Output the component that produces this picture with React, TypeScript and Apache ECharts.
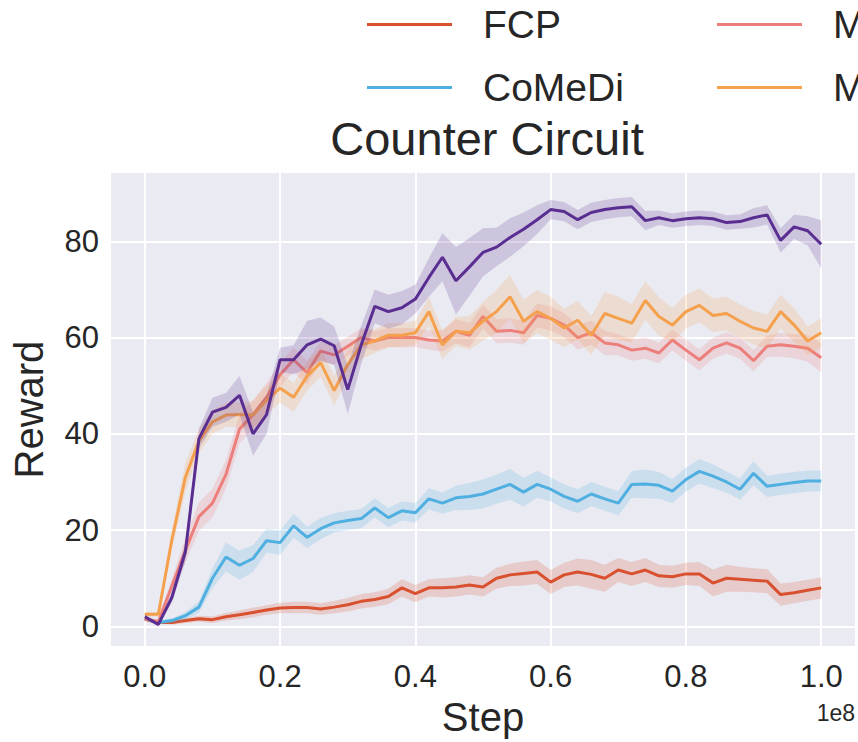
import React, { useEffect, useRef } from "react";
import * as echarts from "echarts";

const STEPS = [
  0, 0.02, 0.04, 0.06, 0.08, 0.1, 0.12, 0.14, 0.16, 0.18,
  0.2, 0.22, 0.24, 0.26, 0.28, 0.3, 0.32, 0.34, 0.36, 0.38,
  0.4, 0.42, 0.44, 0.46, 0.48, 0.5, 0.52, 0.54, 0.56, 0.58,
  0.6, 0.62, 0.64, 0.66, 0.68, 0.7, 0.72, 0.74, 0.76, 0.78,
  0.8, 0.82, 0.84, 0.86, 0.88, 0.9, 0.92, 0.94, 0.96, 0.98, 1.0,
];

const FCP = [
  1.5, 0.8, 0.8, 1.2, 1.6, 1.4, 2.0, 2.4, 2.9, 3.4,
  3.8, 3.9, 3.9, 3.6, 4.0, 4.5, 5.2, 5.6, 6.2, 8.0,
  6.8, 8.0, 8.0, 8.2, 8.6, 8.2, 10.0, 10.7, 11.0, 11.3,
  9.2, 10.7, 11.3, 10.8, 10.0, 11.7, 10.9, 11.7, 10.5, 10.3,
  10.9, 10.9, 9.0, 10.0, 9.8, 9.6, 9.4, 6.6, 7.0, 7.5, 8.0,
];
const FCP_CI = [
  0.3, 0.3, 0.4, 0.5, 0.6, 0.7, 0.8, 0.9, 1.0, 1.0,
  1.1, 1.2, 1.2, 1.2, 1.3, 1.4, 1.5, 1.5, 1.6, 1.8,
  1.8, 1.8, 2.0, 2.0, 2.0, 2.0, 2.2, 2.3, 2.5, 2.5,
  2.5, 2.5, 2.8, 3.0, 2.8, 2.5, 2.5, 2.5, 2.3, 2.3,
  2.3, 2.5, 2.8, 2.8, 2.6, 2.5, 2.5, 2.3, 2.2, 2.2, 2.2,
];

const COMEDI = [
  1.5, 0.8, 1.2, 2.2, 4.0, 10.0, 14.4, 12.7, 14.1, 17.8,
  17.4, 20.9, 18.5, 20.3, 21.5, 22.0, 22.4, 24.6, 22.6, 24.0,
  23.6, 26.5, 25.6, 26.7, 27.0, 27.5, 28.5, 29.5, 27.9, 29.5,
  28.5, 27.0, 26.0, 27.5, 26.5, 25.6, 29.5, 29.6, 29.3, 28.1,
  30.5, 32.2, 31.2, 30.0, 28.5, 31.8, 29.1, 29.5, 29.9, 30.2, 30.2,
];
const COMEDI_CI = [
  0.3, 0.3, 0.5, 0.8, 1.2, 2.0, 3.0, 3.0, 2.8, 2.5,
  2.5, 2.5, 2.2, 2.2, 2.0, 2.0, 2.0, 2.0, 2.0, 2.0,
  2.0, 2.2, 2.2, 2.5, 2.8, 3.0, 3.0, 3.2, 3.0, 2.8,
  2.5, 2.5, 2.5, 2.5, 2.5, 2.5, 2.8, 3.0, 2.8, 2.5,
  2.5, 2.5, 2.5, 2.2, 2.2, 2.5, 2.2, 2.2, 2.2, 2.2, 2.2,
];

const M1 = [
  1.5, 1.0, 8.4, 15.8, 22.8, 25.6, 31.6, 41.0, 44.0, 47.6,
  52.3, 55.4, 52.7, 57.2, 56.4, 58.2, 60.0, 59.3, 60.0, 60.0,
  60.0, 59.5, 59.3, 61.3, 60.5, 64.4, 61.3, 61.5, 61.0, 64.6,
  64.0, 62.6, 60.0, 61.0, 58.9, 58.5, 57.4, 57.8, 56.8, 59.5,
  57.4, 55.4, 57.8, 58.9, 57.8, 55.2, 58.2, 58.5, 58.2, 57.8, 55.8,
];
const M1_CI = [
  0.3, 0.5, 1.5, 2.5, 3.0, 3.0, 3.0, 3.0, 3.0, 3.0,
  2.5, 2.5, 2.5, 2.0, 2.0, 2.0, 2.0, 2.0, 2.0, 2.0,
  2.0, 2.0, 2.2, 2.5, 2.5, 2.5, 2.5, 2.5, 2.5, 2.5,
  2.5, 2.5, 2.5, 2.5, 2.5, 2.2, 2.2, 2.2, 2.2, 2.2,
  2.2, 2.2, 2.2, 2.2, 2.2, 2.2, 2.2, 2.5, 2.5, 2.8, 3.0,
];

const M2 = [
  2.5, 2.5, 18.0, 31.0, 38.5, 42.5, 43.9, 44.0, 43.9, 47.0,
  49.5, 47.6, 52.0, 54.8, 49.0, 54.4, 58.5, 59.3, 60.5, 60.5,
  61.0, 65.4, 58.5, 61.3, 61.0, 63.4, 65.4, 68.5, 63.4, 65.4,
  64.0, 62.0, 63.6, 60.5, 65.0, 64.0, 63.0, 67.7, 64.4, 62.6,
  65.4, 66.7, 64.6, 65.0, 63.4, 62.0, 61.3, 65.4, 62.6, 59.3, 61.0,
];
const M2_CI = [
  0.5, 0.5, 2.0, 3.0, 2.5, 2.5, 2.5, 2.5, 3.0, 3.0,
  3.0, 3.0, 3.0, 3.0, 3.0, 3.0, 3.0, 2.5, 2.5, 2.5,
  2.5, 3.0, 3.0, 3.0, 3.5, 4.0, 4.5, 4.5, 4.5, 4.5,
  4.5, 4.0, 4.0, 4.0, 4.5, 4.5, 4.0, 4.0, 4.0, 3.5,
  3.5, 3.5, 3.5, 3.5, 3.5, 3.5, 3.5, 3.5, 3.5, 3.0, 3.0,
];

const OURS = [
  2.0, 0.4, 6.0, 15.5, 39.0, 44.5, 45.5, 48.0, 40.0, 44.0,
  55.4, 55.4, 58.5, 59.7, 58.3, 49.2, 58.5, 66.5, 65.4, 66.2,
  68.0, 72.5, 76.7, 71.8, 74.7, 77.7, 78.8, 80.8, 82.5, 84.5,
  86.6, 86.2, 84.5, 86.0, 86.6, 87.0, 87.2, 84.3, 84.9, 84.3,
  84.7, 84.9, 84.7, 83.9, 84.1, 84.9, 85.5, 80.2, 83.0, 82.2, 79.4,
];
const OURS_CI = [
  0.5, 0.5, 1.0, 2.0, 2.0, 3.0, 3.0, 4.0, 4.5, 4.0,
  2.5, 3.0, 5.0, 4.5, 4.0, 5.0, 4.0, 3.5, 3.5, 3.5,
  3.0, 4.0, 5.0, 7.0, 6.0, 5.0, 4.0, 4.0, 3.5, 3.0,
  2.0, 2.0, 2.0, 2.0, 2.0, 2.0, 2.0, 2.0, 1.5, 1.5,
  1.5, 1.5, 1.5, 1.5, 1.5, 2.0, 2.0, 2.5, 2.5, 3.0, 5.0,
];

const NAMES = ["FCP", "CoMeDi", "MEP", "MEP+", "Ours"];
const VALUES = [FCP, COMEDI, M1, M2, OURS];
const CIS = [FCP_CI, COMEDI_CI, M1_CI, M2_CI, OURS_CI];
const COLORS = ["#d9502f", "#4eafe0", "#ec7f7c", "#f5a04c", "#5a2d90"];

const X_TICKS = [0, 0.2, 0.4, 0.6, 0.8, 1.0];
const Y_TICKS = [0, 20, 40, 60, 80];

const TITLE = "Counter Circuit";
const X_NAME = "Step";
const Y_NAME = "Reward";
const X_EXP = "1e8";

const FONT = "'Liberation Sans', Arial, Helvetica, sans-serif";
const TEXT = "#262626";

export default function App() {
  const ref = useRef<HTMLDivElement>(null);
  useEffect(() => {
    if (!ref.current) return;
    const chart = echarts.init(ref.current, null, { renderer: "svg" });
    const n = STEPS.length;

    const bands = VALUES.map((vals, k) => ({
      type: "custom",
      name: NAMES[k] + " band",
      silent: true,
      z: 2 + k * 2,
      data: [[0.5, 40]],
      renderItem: (params: any, api: any) => {
        const ci = CIS[k];
        const top: number[][] = [];
        const bot: number[][] = [];
        for (let i = 0; i < n; i++) {
          top.push(api.coord([STEPS[i], vals[i] + ci[i]]));
          bot.push(api.coord([STEPS[i], vals[i] - ci[i]]));
        }
        return {
          type: "polygon",
          shape: { points: top.concat(bot.reverse()) },
          style: { fill: COLORS[k], opacity: 0.2 },
        };
      },
    }));

    const lines = VALUES.map((vals, k) => ({
      type: "line",
      name: NAMES[k],
      data: STEPS.map((s, i) => [s, vals[i]]),
      showSymbol: false,
      symbol: "none",
      color: COLORS[k],
      lineStyle: { width: 3, color: COLORS[k] },
      z: 3 + k * 2,
    }));

    const legendPos = [
      { left: 362, top: 0 },
      { left: 362, top: 63 },
      { left: 712, top: 0 },
      { left: 712, top: 63 },
    ];
    const legends = legendPos.map((p, k) => ({
      data: [NAMES[k]],
      left: p.left,
      top: p.top,
      icon: "rect",
      itemWidth: 85,
      itemHeight: 3,
      selectedMode: false,
      textStyle: {
        fontSize: 39,
        color: TEXT,
        fontFamily: FONT,
        padding: [0, 0, 0, 26],
      },
    }));

    chart.setOption({
      animation: false,
      backgroundColor: "#ffffff",
      textStyle: { fontFamily: FONT },
      title: {
        text: TITLE,
        left: 482,
        top: 110,
        textAlign: "center",
        textStyle: { fontSize: 47, fontWeight: "normal", color: TEXT, fontFamily: FONT },
      },
      legend: legends,
      grid: {
        left: 111,
        right: 3,
        top: 173,
        bottom: 90,
        show: true,
        backgroundColor: "#eaeaf2",
        borderWidth: 0,
      },
      xAxis: {
        type: "value",
        min: -0.05,
        max: 1.05,
        name: X_NAME,
        nameLocation: "middle",
        nameGap: 50,
        nameTextStyle: { fontSize: 40, color: TEXT, fontFamily: FONT, verticalAlign: "top" },
        axisLine: { show: false },
        axisTick: { show: false, customValues: X_TICKS },
        axisLabel: {
          customValues: X_TICKS,
          fontSize: 31,
          color: TEXT,
          margin: 15,
          fontFamily: FONT,
          formatter: (v: number) => v.toFixed(1),
        },
        splitLine: { show: true, lineStyle: { color: "#ffffff", width: 2 } },
      },
      yAxis: {
        type: "value",
        min: -4.1,
        max: 94.2,
        name: Y_NAME,
        nameLocation: "middle",
        nameGap: 62,
        nameRotate: 90,
        nameTextStyle: { fontSize: 40, color: TEXT, fontFamily: FONT },
        axisLine: { show: false },
        axisTick: { show: false, customValues: Y_TICKS },
        axisLabel: {
          customValues: Y_TICKS,
          fontSize: 31,
          color: TEXT,
          margin: 12,
          fontFamily: FONT,
        },
        splitLine: { show: true, lineStyle: { color: "#ffffff", width: 2 } },
      },
      graphic: [
        {
          type: "text",
          x: 855,
          y: 713,
          style: {
            text: X_EXP,
            fontSize: 23,
            fill: TEXT,
            fontFamily: FONT,
            textAlign: "right",
            textVerticalAlign: "middle",
          },
        },
      ],
      series: [...bands, ...lines],
    });
    return () => chart.dispose();
  }, []);

  return (
    <div
      ref={ref}
      style={{ position: "absolute", left: 0, top: 0, width: 858, height: 742 }}
    />
  );
}
